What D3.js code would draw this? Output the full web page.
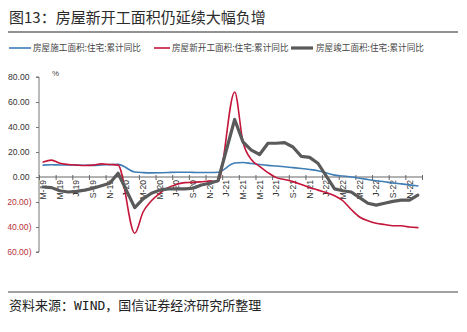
<!DOCTYPE html>
<html>
<head>
<meta charset="utf-8">
<script src="https://cdn.jsdelivr.net/npm/d3@7"></script>
<style>
  html, body { margin: 0; padding: 0; background: #fff; }
  svg { display: block; }
  text { font-family: "Liberation Sans", Arial, sans-serif; }
  .cjk { font-family: "Noto Sans CJK SC", sans-serif; }
</style>
</head>
<body>
<svg id="chart" width="467" height="332"></svg>
<script>
// Monthly categories, Mar 2019 – Dec 2022 (January has no separate release)
const months = [
  "2019-03","2019-04","2019-05","2019-06","2019-07","2019-08","2019-09","2019-10","2019-11","2019-12",
  "2020-01","2020-02","2020-03","2020-04","2020-05","2020-06","2020-07","2020-08","2020-09","2020-10","2020-11","2020-12",
  "2021-01","2021-02","2021-03","2021-04","2021-05","2021-06","2021-07","2021-08","2021-09","2021-10","2021-11","2021-12",
  "2022-01","2022-02","2022-03","2022-04","2022-05","2022-06","2022-07","2022-08","2022-09","2022-10","2022-11","2022-12"
];

// Axis labels shown on every other month
const monthTickLabels = [
  "M-19","M-19","J-19","S-19","N-19","J-20","M-20","M-20","J-20","S-20","N-20","J-21",
  "M-21","M-21","J-21","S-21","N-21","J-22","M-22","M-22","J-22","S-22","N-22"
];

const yTicks = [-60, -40, -20, 0, 20, 40, 60, 80];

// 房屋施工面积:住宅:累计同比 (%)
const underConstruction = [
  9.5, 9.8, 9.6, 9.7, 9.5, 9.4, 9.3, 9.6, 9.9, 10.1,
  null, 4.0, 3.5, 3.3, 3.4, 3.6, 3.8, 3.8, 3.7, 3.6, 3.6, 3.8,
  null, 11.2, 11.6, 10.8, 10.0, 9.3, 8.8, 8.2, 7.5, 6.8, 6.0, 5.0,
  null, 1.5, 0.8, 0.0, -1.0, -2.0, -3.0, -3.8, -4.8, -5.5, -6.3, -7.2
];

// 房屋新开工面积:住宅:累计同比 (%)
const newStarts = [
  12.0, 13.5, 11.0, 10.0, 9.5, 9.2, 9.5, 10.5, 10.0, 9.5,
  null, -45.0, -28.0, -19.0, -13.0, -8.5, -6.0, -4.5, -4.3, -3.8, -3.2, -3.5,
  null, 68.0, 28.0, 14.0, 8.5, 3.5, -0.5, -2.0, -3.7, -6.0, -8.5, -10.5,
  null, -15.0, -19.0, -26.0, -32.0, -35.0, -37.0, -38.0, -39.0, -39.0, -40.0, -40.5
];

// 房屋竣工面积:住宅:累计同比 (%)
const completions = [
  -8.0, -8.5, -11.0, -12.0, -11.5, -10.5, -9.0, -7.0, -5.0, 3.0,
  null, -24.5, -17.5, -13.0, -10.5, -9.5, -9.5, -9.5, -9.0, -6.4, -5.0, -3.0,
  null, 46.0, 28.0, 21.5, 18.0, 27.0, 27.0, 27.5, 24.0, 16.5, 15.7, 11.0,
  null, -9.5, -11.0, -12.0, -16.5, -21.0, -22.5, -21.0, -19.5, -18.5, -18.5, -14.5
];

const seriesNames = ["房屋施工面积:住宅:累计同比", "房屋新开工面积:住宅:累计同比", "房屋竣工面积:住宅:累计同比"];

const svg = d3.select("#chart");

// Heading and rules
svg.append("text").attr("class", "cjk")
  .attr("x", 9).attr("y", 23)
  .attr("font-size", 15).attr("fill", "#2b2b2b")
  .text("图13：房屋新开工面积仍延续大幅负增");
svg.append("line").attr("x1", 8).attr("x2", 458).attr("y1", 32).attr("y2", 32)
  .attr("stroke", "#6e6e6e").attr("stroke-width", 1.6);

svg.append("line").attr("x1", 8).attr("x2", 458).attr("y1", 292).attr("y2", 292)
  .attr("stroke", "#444").attr("stroke-width", 1);
svg.append("text")
  .attr("x", 9).attr("y", 310)
  .attr("font-size", 13).attr("fill", "#222")
  .style("font-family", "'DejaVu Sans Mono', 'Noto Sans CJK SC', monospace")
  .text("资料来源：WIND，国信证券经济研究所整理");

// Scales
const x = d3.scaleBand().domain(months).range([39, 422]).padding(0);
const xIdx = d3.scaleLinear().domain([0, months.length]).range([39, 422]);
const y = d3.scaleLinear().domain([-60, 80]).range([252, 77]);
const cx = m => x(m) + x.bandwidth() / 2;

// Legend
const legend = [
  { name: seriesNames[0], color: "#3f7db5", width: 1.6, x1: 9, x2: 31, tx: 33 },
  { name: seriesNames[1], color: "#c4153a", width: 1.6, x1: 154, x2: 170, tx: 172 },
  { name: seriesNames[2], color: "#5a5a5a", width: 3.2, x1: 291, x2: 313, tx: 316 }
];
const lg = svg.append("g");
legend.forEach(d => {
  lg.append("line").attr("x1", d.x1).attr("x2", d.x2).attr("y1", 48).attr("y2", 48)
    .attr("stroke", d.color).attr("stroke-width", d.width);
  lg.append("text").attr("class", "cjk").attr("x", d.tx).attr("y", 51)
    .attr("font-size", 8.6).attr("fill", "#444").text(d.name);
});

// Y axis; the left edge of the frame trims the opening bracket of negative labels
svg.append("defs").append("clipPath").attr("id", "yclip")
  .append("rect").attr("x", 7.4 - 39).attr("y", 60).attr("width", 45).attr("height", 210);

const fmt = v => v < 0 ? "(" + d3.format(".2f")(-v) + ")" : d3.format(".2f")(v);
const yAxis = svg.append("g")
  .attr("transform", "translate(39,0)")
  .attr("clip-path", "url(#yclip)")
  .call(d3.axisLeft(y).tickValues(yTicks).tickSize(3).tickPadding(4).tickFormat(fmt));
yAxis.select(".domain").attr("stroke", "#777").attr("d", `M-3,${y(80)}H0V${y(-60)}H-3`);
yAxis.selectAll(".tick line").attr("stroke", "#777");
yAxis.selectAll(".tick text")
  .attr("font-size", 8.6)
  .attr("fill", d => d < 0 ? "#b8333b" : "#333")
  .attr("x", d => d < 0 ? -7.5 : -9.5);

svg.append("text").attr("x", 52).attr("y", 76).attr("font-size", 8).attr("fill", "#444").text("%");

// X axis on the zero line: boundary ticks every two months
const tickIdx = d3.range(0, months.length + 1, 2);
const xTickAxis = svg.append("g")
  .attr("transform", `translate(0,${y(0)})`)
  .call(d3.axisBottom(xIdx).tickValues(tickIdx).tickSize(3).tickFormat(""));
xTickAxis.select(".domain").attr("stroke", "#666").attr("d", `M39,0H422`);
xTickAxis.selectAll(".tick line").attr("stroke", "#666").attr("y1", -2);

const labelMonths = months.filter((m, i) => i % 2 === 0);
const xLabelAxis = svg.append("g")
  .attr("transform", `translate(0,${y(0)})`)
  .call(d3.axisBottom(x).tickValues(labelMonths).tickSize(0)
    .tickFormat((m, i) => monthTickLabels[i]));
xLabelAxis.select(".domain").remove();
xLabelAxis.selectAll(".tick text")
  .attr("font-size", 8.6).attr("fill", "#333")
  .attr("text-anchor", "end")
  .attr("transform", "rotate(-90)")
  .attr("x", -3).attr("y", 0).attr("dy", "0.35em");

// Lines (points without a January release are skipped and joined across)
const rows = (vals) => months.map((m, i) => ({ m, v: vals[i] })).filter(d => d.v !== null);
const smooth = d3.line().x(d => cx(d.m)).y(d => y(d.v)).curve(d3.curveMonotoneX);
const straight = d3.line().x(d => cx(d.m)).y(d => y(d.v));

const plot = svg.append("g").attr("fill", "none").attr("stroke-linejoin", "round").attr("stroke-linecap", "round");
plot.append("path").attr("d", smooth(rows(underConstruction)))
  .attr("stroke", legend[0].color).attr("stroke-width", 1.6);
plot.append("path").attr("d", smooth(rows(newStarts)))
  .attr("stroke", legend[1].color).attr("stroke-width", 1.6);
plot.append("path").attr("d", straight(rows(completions)))
  .attr("stroke", legend[2].color).attr("stroke-width", 3.2);
</script>
</body>
</html>
